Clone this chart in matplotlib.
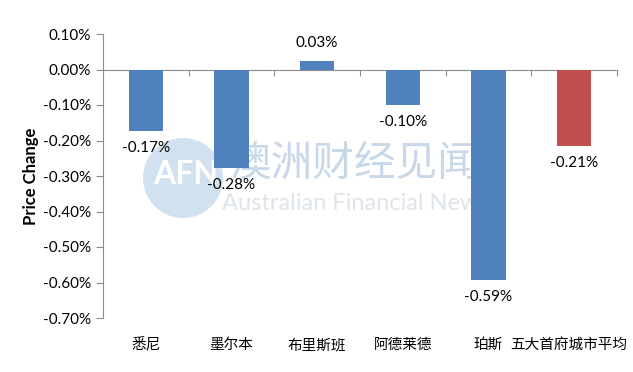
import matplotlib.pyplot as plt
from matplotlib.patches import Ellipse
from matplotlib.transforms import blended_transform_factory

plt.rcParams["font.family"] = ["Lato", "Noto Sans CJK SC", "DejaVu Sans"]

cities = ["悉尼", "墨尔本", "布里斯班", "阿德莱德", "珀斯", "五大首府城市平均"]
changes = [-0.174, -0.277, 0.025, -0.100, -0.593, -0.216]
value_labels = ["-0.17%", "-0.28%", "0.03%", "-0.10%", "-0.59%", "-0.21%"]
yticks = [0.10, 0.0, -0.10, -0.20, -0.30, -0.40, -0.50, -0.60, -0.70]

BLUE = "#4f81bd"
RED = "#c0504d"
AXIS = "#8c8c8c"

W, H = 633, 372
fig = plt.figure(figsize=(W / 100, H / 100), dpi=100)
ax = fig.add_axes([103 / W, 1 - 318 / H, 514 / W, 284 / H])

colors = [BLUE] * (len(cities) - 1) + [RED]
x = list(range(len(cities)))
ax.bar(x, changes, width=0.4, color=colors, zorder=3)

ax.set_xlim(-0.5, len(cities) - 0.5)
ax.set_ylim(-0.70, 0.10)
ax.set_yticks(yticks)
ax.set_yticklabels([f"{v:.2f}%" for v in yticks], fontsize=11)

for side in ["top", "right"]:
    ax.spines[side].set_visible(False)
ax.spines["left"].set_color(AXIS)
ax.spines["bottom"].set_color(AXIS)
ax.spines["bottom"].set_position(("data", 0))
ax.tick_params(axis="y", colors=AXIS, labelcolor="black", length=5, width=0.8)
ax.set_xticks([i - 0.5 for i in range(len(cities) + 1)])
ax.set_xticklabels([])
ax.tick_params(axis="x", colors=AXIS, length=4, width=0.8, direction="out")

# value labels
for xi, v, lab in zip(x, changes, value_labels):
    if v >= 0:
        ax.annotate(lab, (xi, v), xytext=(0, 8), textcoords="offset points",
                    ha="center", va="bottom", fontsize=11, zorder=4)
    else:
        ax.annotate(lab, (xi, v), xytext=(0, -7), textcoords="offset points",
                    ha="center", va="top", fontsize=11, zorder=4)

# category labels below plot
trans = blended_transform_factory(ax.transData, ax.transAxes)
for xi, name in zip(x, cities):
    xpos = xi - 0.06 if xi == len(cities) - 1 else xi
    ax.text(xpos, -0.095, name, transform=trans, ha="center", va="center", fontsize=10.5)

ax.set_ylabel("Price Change", fontsize=12, fontweight="bold", labelpad=3)

# faint watermark
circ = Ellipse((183 / W, 1 - 178 / H), 80 / W, 80 / H, transform=fig.transFigure,
               facecolor="#d2e1ef", edgecolor="none", zorder=0)
fig.patches.append(circ)
fig.text(186 / W, 1 - 174 / H, "AFN", ha="center", va="center", fontsize=23,
         fontweight="bold", color="white", zorder=1)
fig.text(354 / W, 1 - 164 / H, "澳洲财经见闻", ha="center", va="center",
         fontsize=30, color="#c8d8e8", zorder=1, family=["Noto Sans CJK SC"])
fig.text(355 / W, 1 - 204 / H, "Australian Financial News", ha="center", va="center",
         fontsize=17, color="#dfe4ea", zorder=1)

ax.set_facecolor("none")
ax.set_zorder(2)

fig.savefig("out.png", dpi=100)
